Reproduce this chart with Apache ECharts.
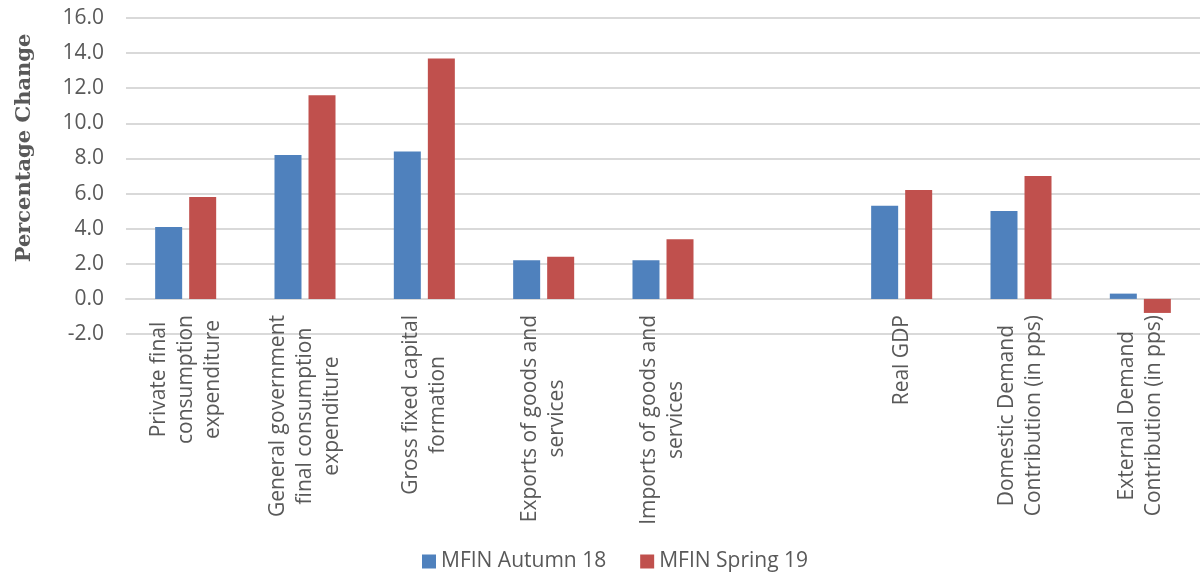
<!DOCTYPE html>
<html>
<head>
<meta charset="utf-8">
<script src="https://cdn.jsdelivr.net/npm/echarts@6/dist/echarts.min.js"></script>
<style>
  html, body { margin: 0; padding: 0; background: #ffffff; }
  #chart { width: 1200px; height: 572px; }
</style>
</head>
<body>
<div id="chart"></div>
<script>
// Growth of GDP components: MFIN Autumn 18 vs MFIN Spring 19 projections
const categories = [
  'Private final\nconsumption\nexpenditure',
  'General government\nfinal consumption\nexpenditure',
  'Gross fixed capital\nformation',
  'Exports of goods and\nservices',
  'Imports of goods and\nservices',
  '',
  'Real GDP',
  'Domestic Demand\nContribution (in pps)',
  'External Demand\nContribution (in pps)'
];
const seriesNames = ['MFIN Autumn 18', 'MFIN Spring 19'];
const autumn18 = [4.1, 8.2, 8.4, 2.2, 2.2, null, 5.3, 5.0, 0.3];
const spring19 = [5.8, 11.6, 13.7, 2.4, 3.4, null, 6.2, 7.0, -0.8];
const yMin = -2;
const yMax = 16;
const yStep = 2;

const TEXT = '#595959';
const GRID = '#d9d9d9';
const LABEL_SIZE = 21;
const LABEL_LINE = 27;

// Multi-line category labels are centred line by line: shorter lines get
// equal padding on both sides so every line is as wide as the longest one.
const measureCtx = document.createElement('canvas').getContext('2d');
measureCtx.font = LABEL_SIZE + 'px Open Sans';
const rich = {};
const labelText = categories.map((c, i) => {
  if (!c) return '';
  const lines = c.split('\n');
  const widths = lines.map(l => measureCtx.measureText(l).width);
  const maxW = Math.max(...widths);
  return lines.map((l, j) => {
    const key = 'l' + i + '_' + j;
    const side = (maxW - widths[j]) / 2;
    rich[key] = {
      fontSize: LABEL_SIZE,
      fontFamily: 'Open Sans',
      color: TEXT,
      lineHeight: LABEL_LINE,
      padding: [0, side, 0, side]
    };
    return '{' + key + '|' + l + '}';
  }).join('\n');
});

const chart = echarts.init(document.getElementById('chart'), null, { renderer: 'canvas' });

chart.setOption({
  animation: false,
  backgroundColor: '#ffffff',
  color: ['#4f81bd', '#c0504d'],
  legend: {
    data: seriesNames,
    left: 422,
    top: 551,
    padding: 0,
    icon: 'rect',
    itemWidth: 14,
    itemHeight: 14,
    itemGap: 34,
    textStyle: { color: TEXT, fontSize: 21, fontFamily: 'Open Sans' }
  },
  grid: { left: 126, width: 1080, top: 18, height: 316 },
  xAxis: {
    type: 'category',
    data: categories,
    axisLine: { show: true, onZero: true, lineStyle: { color: GRID, width: 2 } },
    axisTick: { show: false },
    axisLabel: {
      rotate: 90,
      interval: 0,
      margin: -19,
      color: TEXT,
      fontSize: LABEL_SIZE,
      fontFamily: 'Open Sans',
      lineHeight: LABEL_LINE,
      rich: rich,
      formatter: (v, i) => labelText[i]
    }
  },
  yAxis: {
    type: 'value',
    min: yMin,
    max: yMax,
    interval: yStep,
    axisLine: { show: false },
    axisTick: { show: false },
    axisLabel: {
      color: TEXT,
      fontSize: 21,
      fontFamily: 'Open Sans',
      margin: 22,
      formatter: v => v.toFixed(1)
    },
    splitLine: { lineStyle: { color: GRID, width: 2 } },
    name: 'Percentage Change',
    nameLocation: 'middle',
    nameGap: 91,
    nameTextStyle: {
      color: TEXT,
      fontFamily: 'DejaVu Serif',
      fontWeight: 'bold',
      fontSize: 21,
      padding: [0, 0, 0, 56]
    }
  },
  series: [
    {
      name: seriesNames[0],
      type: 'bar',
      data: autumn18,
      barWidth: 27,
      barGap: '26%'
    },
    {
      name: seriesNames[1],
      type: 'bar',
      data: spring19,
      barWidth: 27,
      barGap: '26%'
    }
  ]
});
</script>
</body>
</html>
